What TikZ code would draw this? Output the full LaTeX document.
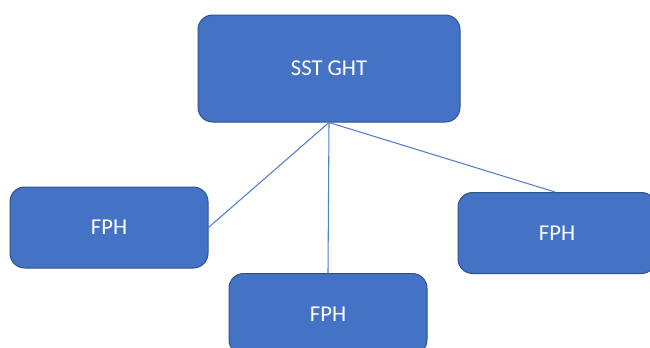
\documentclass[tikz,border=0pt]{standalone}
\usepackage{fontspec}
\setmainfont{Carlito}
\usepackage{xcolor}
\usepackage{tikz}

\definecolor{boxfill}{RGB}{68,114,196}
\definecolor{boxline}{RGB}{47,82,143}
\definecolor{linkline}{RGB}{82,126,204}

\tikzset{
  orgbox/.style={draw=boxline, line width=0.75, fill=boxfill, rounded corners=11,
    inner sep=0, minimum width=198*0.75pt, minimum height=81*0.75pt,
    text=white, font=\fontsize{17}{20}\selectfont},
  link/.style={draw=linkline, line width=0.8}
}

\begin{document}
\begin{tikzpicture}[x=0.75pt,y=0.75pt,yscale=-1,xscale=1]
\useasboundingbox (0,0) rectangle (650,347);
\clip (0,0) rectangle (650,347);

%Shape: Rounded Rect [top]
\node (sst) at (329,68.5) [orgbox, minimum width=262*0.75pt, minimum height=107*0.75pt] {SST GHT};
%Shape: Rounded Rect [left]
\node (fphl) at (109,227.5) [orgbox] {FPH};
%Shape: Rounded Rect [middle]
\node (fphm) at (328,314) [orgbox] {FPH};
%Shape: Rounded Rect [right]
\node (fphr) at (557,233) [orgbox] {FPH};

%Straight Lines
\draw [link] (sst.south) -- (fphl.east);
\draw [link] (sst.south) -- (fphm.north);
\draw [link] (sst.south) -- ([xshift=-2*0.75pt]fphr.north);
\end{tikzpicture}
\end{document}
